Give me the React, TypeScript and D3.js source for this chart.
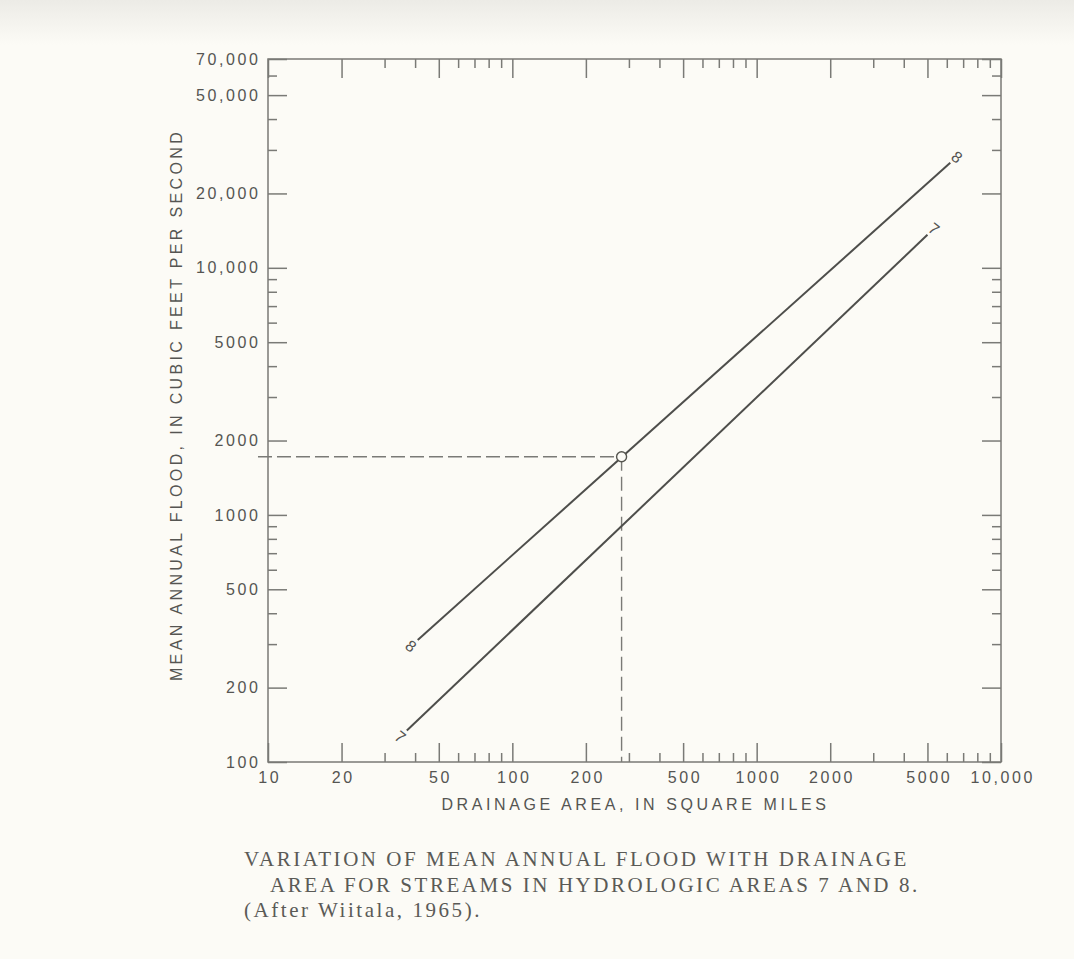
import React, { useEffect, useRef } from "react";
import * as d3 from "d3";

// x axis: drainage area, square miles
const areaMajor = [10, 20, 50, 100, 200, 500, 1000, 2000, 5000, 10000];
const areaLabels = ["10", "20", "50", "100", "200", "500", "1000", "2000", "5000", "10,000"];
const areaMinor = [30, 40, 60, 70, 80, 90, 300, 400, 600, 700, 800, 900, 3000, 4000, 6000, 7000, 8000, 9000];

// y axis: mean annual flood, cfs
const floodMajor = [100, 200, 500, 1000, 2000, 5000, 10000, 20000, 50000, 70000];
const floodLabels = ["100", "200", "500", "1000", "2000", "5000", "10,000", "20,000", "50,000", "70,000"];
const floodMinor = [300, 400, 600, 700, 800, 900, 3000, 4000, 6000, 7000, 8000, 9000, 30000, 40000, 60000];

// hydrologic area curves (end points)
const areaNames = ["8", "7"];
const area8 = [
  { area: 41, flood: 312 },
  { area: 6200, flood: 26600 },
];
const area7 = [
  { area: 37, flood: 134 },
  { area: 5000, flood: 13600 },
];

// example reading
const exampleArea = 280;
const exampleFlood = 1720;
const exampleStart = 9.1;

const captionLines = [
  "VARIATION OF MEAN ANNUAL FLOOD WITH DRAINAGE",
  "AREA FOR STREAMS IN HYDROLOGIC AREAS 7 AND 8.",
  "(After Wiitala, 1965).",
];

const W = 1074;
const H = 959;
const INK = "#555552";
const BG = "#fcfbf6";

function FloodChart() {
  const ref = useRef<SVGSVGElement>(null);

  useEffect(() => {
    const svg = d3.select(ref.current);
    svg.selectAll("*").remove();

    const x = d3.scaleLog().domain([10, 10000]).range([268, 1001]);
    const y = d3.scaleLog().domain([100, 70000]).range([762, 59]);

    // paper
    const defs = svg.append("defs");
    const grad = defs
      .append("linearGradient")
      .attr("id", "scan")
      .attr("x1", 0)
      .attr("y1", 0)
      .attr("x2", 0)
      .attr("y2", 1);
    grad.append("stop").attr("offset", "0%").attr("stop-color", "#ecebe6");
    grad.append("stop").attr("offset", "100%").attr("stop-color", BG);
    svg.append("rect").attr("width", W).attr("height", H).attr("fill", BG);
    svg.append("rect").attr("width", W).attr("height", 45).attr("fill", "url(#scan)");

    const font = "'Liberation Sans', Arial, Helvetica, sans-serif";
    const ls = 2.6;

    const styleAxis = (g: any) => {
      g.select(".domain").remove();
      g.selectAll("line").attr("stroke", "#7a7a76").attr("stroke-width", 1.5);
      g.selectAll("text")
        .attr("fill", INK)
        .style("font-family", font)
        .style("font-size", "16px")
        .style("letter-spacing", ls + "px");
    };

    const left = svg.append("g").attr("transform", `translate(${x(10)},0)`);
    left.call(
      d3
        .axisLeft(y)
        .tickValues(floodMajor)
        .tickSizeInner(-19)
        .tickSizeOuter(0)
        .tickPadding(10 - ls)
        .tickFormat((d, i) => floodLabels[i])
    );
    styleAxis(left);
    const leftMinor = svg.append("g").attr("transform", `translate(${x(10)},0)`);
    leftMinor.call(d3.axisLeft(y).tickValues(floodMinor).tickSizeInner(-9).tickSizeOuter(0).tickFormat(() => ""));
    styleAxis(leftMinor);

    const right = svg.append("g").attr("transform", `translate(${x(10000)},0)`);
    right.call(d3.axisRight(y).tickValues(floodMajor).tickSizeInner(-19).tickSizeOuter(0).tickFormat(() => ""));
    styleAxis(right);
    const rightMinor = svg.append("g").attr("transform", `translate(${x(10000)},0)`);
    rightMinor.call(d3.axisRight(y).tickValues(floodMinor).tickSizeInner(-9).tickSizeOuter(0).tickFormat(() => ""));
    styleAxis(rightMinor);

    const bottom = svg.append("g").attr("transform", `translate(0,${y(100)})`);
    bottom.call(
      d3
        .axisBottom(x)
        .tickValues(areaMajor)
        .tickSizeInner(-19)
        .tickSizeOuter(0)
        .tickPadding(10)
        .tickFormat((d, i) => areaLabels[i])
    );
    styleAxis(bottom);
    bottom.selectAll("text").attr("dx", ls / 2);
    const bottomMinor = svg.append("g").attr("transform", `translate(0,${y(100)})`);
    bottomMinor.call(d3.axisBottom(x).tickValues(areaMinor).tickSizeInner(-9).tickSizeOuter(0).tickFormat(() => ""));
    styleAxis(bottomMinor);

    const top = svg.append("g").attr("transform", `translate(0,${y(70000)})`);
    top.call(d3.axisTop(x).tickValues(areaMajor).tickSizeInner(-19).tickSizeOuter(0).tickFormat(() => ""));
    styleAxis(top);
    const topMinor = svg.append("g").attr("transform", `translate(0,${y(70000)})`);
    topMinor.call(d3.axisTop(x).tickValues(areaMinor).tickSizeInner(-9).tickSizeOuter(0).tickFormat(() => ""));
    styleAxis(topMinor);

    // frame
    svg
      .append("rect")
      .attr("x", x(10))
      .attr("y", y(70000))
      .attr("width", x(10000) - x(10))
      .attr("height", y(100) - y(70000))
      .attr("fill", "none")
      .attr("stroke", "#7a7a76")
      .attr("stroke-width", 1.5);

    // axis titles
    svg
      .append("text")
      .attr("x", (x(10) + x(10000)) / 2 + 1)
      .attr("y", 810)
      .attr("text-anchor", "middle")
      .attr("fill", INK)
      .style("font-family", font)
      .style("font-size", "16px")
      .style("letter-spacing", "3.6px")
      .text("DRAINAGE AREA, IN SQUARE MILES");

    svg
      .append("text")
      .attr("transform", `translate(182,${405}) rotate(-90)`)
      .attr("text-anchor", "middle")
      .attr("fill", INK)
      .style("font-family", font)
      .style("font-size", "16px")
      .style("letter-spacing", "3.35px")
      .text("MEAN ANNUAL FLOOD, IN CUBIC FEET PER SECOND");

    // dashed reading lines
    const dashed = d3.line<[number, number]>().x((d) => x(d[0])).y((d) => y(d[1]));
    svg
      .append("path")
      .attr("d", dashed([[exampleStart, exampleFlood], [exampleArea, exampleFlood]]))
      .attr("fill", "none")
      .attr("stroke", "#7a7a76")
      .attr("stroke-width", 1.4)
      .attr("stroke-dasharray", "14,5");
    svg
      .append("path")
      .attr("d", dashed([[exampleArea, exampleFlood], [exampleArea, 100]]))
      .attr("fill", "none")
      .attr("stroke", "#7a7a76")
      .attr("stroke-width", 1.4)
      .attr("stroke-dasharray", "14,6");

    // curves
    const line = d3
      .line<{ area: number; flood: number }>()
      .x((d) => x(d.area))
      .y((d) => y(d.flood));

    [area8, area7].forEach((pts, i) => {
      svg
        .append("path")
        .attr("d", line(pts))
        .attr("fill", "none")
        .attr("stroke", "#4e4e4b")
        .attr("stroke-width", 2);

      const a = pts[0];
      const b = pts[pts.length - 1];
      const dx = x(b.area) - x(a.area);
      const dy = y(b.flood) - y(a.flood);
      const len = Math.sqrt(dx * dx + dy * dy);
      const ux = dx / len;
      const uy = dy / len;
      const ends = [
        [x(b.area) + ux * 9, y(b.flood) + uy * 9],
        [x(a.area) - ux * 9, y(a.flood) - uy * 9],
      ];
      ends.forEach(([cx, cy]) => {
        svg
          .append("text")
          .attr("transform", `translate(${cx},${cy}) rotate(38)`)
          .attr("text-anchor", "middle")
          .attr("dy", "0.36em")
          .attr("fill", INK)
          .style("font-family", font)
          .style("font-size", "16px")
          .text(areaNames[i]);
      });
    });

    svg
      .append("circle")
      .attr("cx", x(exampleArea))
      .attr("cy", y(exampleFlood))
      .attr("r", 5)
      .attr("fill", BG)
      .attr("stroke", "#55554f")
      .attr("stroke-width", 1.4);

    // caption
    const cap = svg
      .append("text")
      .attr("fill", "#5a5a56")
      .style("font-family", "'Liberation Serif', 'Times New Roman', serif")
      .style("font-size", "21px")
      .style("letter-spacing", "2.55px");
    const capX = [244, 270, 244];
    const capY = [866, 892, 917];
    captionLines.forEach((t, i) => {
      cap.append("tspan").attr("x", capX[i]).attr("y", capY[i]).text(t);
    });
  }, []);

  return (
    <svg
      ref={ref}
      width={W}
      height={H}
      style={{ position: "absolute", left: 0, top: 0, display: "block" }}
    />
  );
}

export default function App() {
  return <FloodChart />;
}
